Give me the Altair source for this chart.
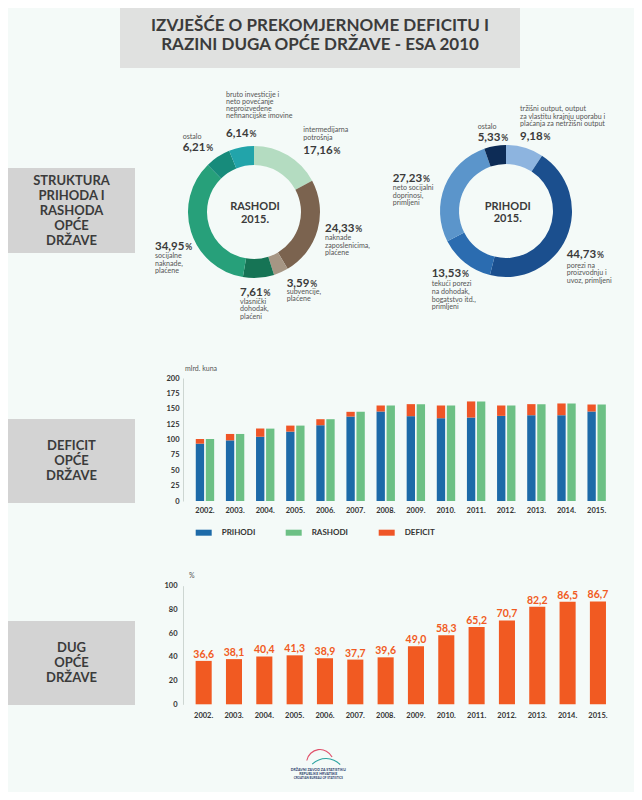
import altair as alt
import pandas as pd

# ---------------- data ----------------
years = ["2002.", "2003.", "2004.", "2005.", "2006.", "2007.", "2008.",
         "2009.", "2010.", "2011.", "2012.", "2013.", "2014.", "2015."]
prihodi = [93.2, 98.6, 104.6, 112.8, 123.2, 137.3, 145.5, 137.9, 134.6, 135.7, 138.4, 139.5, 139.5, 145.5]
rashodi = [100.8, 109.0, 117.7, 122.6, 133.0, 145.0, 155.3, 157.5, 155.3, 161.9, 155.3, 157.5, 158.6, 156.9]
dug = [36.6, 38.1, 40.4, 41.3, 38.9, 37.7, 39.6, 49.0, 58.3, 65.2, 70.7, 82.2, 86.5, 86.7]

bar_series = ["PRIHODI", "RASHODI", "DEFICIT"]
y1_ticks = [0, 25, 50, 75, 100, 125, 150, 175, 200]
y2_ticks = [0, 20, 40, 60, 80, 100]

rashodi_kat = ["intermedijarna\npotrošnja",
               "naknade\nzaposlenicima,\nplaćene",
               "subvencije,\nplaćene",
               "vlasnički\ndohodak,\nplaćeni",
               "socijalne\nnaknade,\nplaćene",
               "ostalo",
               "bruto investicije i\nneto povećanje\nneproizvedene\nnefinancijske imovine"]
rashodi_udio = [17.16, 24.33, 3.59, 7.61, 34.95, 6.21, 6.14]

prihodi_kat = ["tržišni output, output\nza vlastitu krajnju uporabu i\nplaćanja za netržišni output",
               "porezi na\nproizvodnju i\nuvoz, primljeni",
               "tekući porezi\nna dohodak,\nbogatstvo itd.,\nprimljeni",
               "neto socijalni\ndoprinosi,\nprimljeni",
               "ostalo"]
prihodi_udio = [9.18, 44.73, 13.53, 27.23, 5.33]

title_lines = "IZVJEŠĆE O PREKOMJERNOME DEFICITU I\nRAZINI DUGA OPĆE DRŽAVE - ESA 2010"
section_titles = ["STRUKTURA\nPRIHODA I\nRASHODA\nOPĆE\nDRŽAVE", "DEFICIT\nOPĆE\nDRŽAVE", "DUG\nOPĆE\nDRŽAVE"]
logo_lines = ["DRŽAVNI ZAVOD ZA STATISTIKU", "REPUBLIKE HRVATSKE", "CROATIAN BUREAU OF STATISTICS"]

# ---------------- styles / layout ----------------
W, H = 626, 784
FONT = "Lato"
BG = "#f4faf8"
rashodi_colors = ["#b4dcc1", "#7b634f", "#a69684", "#167455", "#27a07a", "#178b7b", "#22a4aa"]
prihodi_colors = ["#8db4df", "#1b4f8e", "#2b6cb0", "#5b95cb", "#0d2c56"]
bar_colors = ["#1d6aa8", "#6cc085", "#ef5527"]
debt_color = "#f15a22"
dark = "#3b3b3b"
desc_c = "#555555"
NUM_SIZE = 11.5
PCT_SIZE = 8.5

# (x, y_number, y_first_desc_line, line_height)
rashodi_lab = [(295.3, 142.0, 122.4, 7.2), (317.0, 219.7, 230.3, 7.3), (278.7, 274.7, 284.0, 7.3),
               (232.0, 283.7, 293.7, 7.8), (147.0, 237.7, 248.0, 7.5), (174.7, 138.7, 129.3, 7.0),
               (218.0, 124.7, 86.6, 7.2)]
prihodi_lab = [(512.0, 127.7, 101.3, 7.3), (558.7, 246.3, 257.7, 7.7), (423.7, 265.3, 276.3, 7.7),
               (384.7, 169.7, 180.3, 7.5), (469.7, 128.7, 119.0, 7.0)]


def one():
    return pd.DataFrame({"a": [0]})


def rect(x, x2, y, y2, color):
    return alt.Chart(one()).mark_rect(color=color).encode(
        x=alt.value(x), x2=alt.value(x2), y=alt.value(y), y2=alt.value(y2))


def text(s, x, y, size, weight="normal", color=dark, align="left", lh=None, center=False, baseline="middle"):
    """y is the centre of the first line (or of the whole block if center=True)."""
    n = s.count("\n") + 1
    lh = lh or size * 1.15
    y1 = y - (n - 1) * lh / 2 if center else y
    return alt.Chart(pd.DataFrame({"t": [s]})).mark_text(
        align=align, baseline=baseline, font=FONT, fontSize=size, fontWeight=weight,
        color=color, lineBreak="\n", lineHeight=lh).encode(
        x=alt.value(x), y=alt.value(y1), text="t:N")


def num_str(v):
    return f"{v:.2f}".replace(".", ",")


def num_width(s, size):
    # approximate advance widths for Lato Bold figures and comma
    return sum((0.24 if ch == "," else 0.58) * size for ch in s)


layers = []

# title box
layers.append(rect(112, 512, 0, 60, "#e0e1e0"))
layers.append(text(title_lines, 312, 27.8, 17, "bold", dark, "center", lh=19.2, center=True))

# section boxes
for s, (y0, y1) in zip(section_titles, [(160, 245), (411, 495), (613, 697)]):
    layers.append(rect(0, 127, y0, y1, "#d3d3d3"))
    layers.append(text(s, 63.5, (y0 + y1) / 2, 13, "bold", dark, "center", lh=15, center=True))


# donuts
def donut(cats, vals, colors, cx, cy):
    df = pd.DataFrame({"kat": cats, "udio": vals, "red": list(range(len(cats)))})
    return alt.Chart(df).mark_arc(radius=66, radius2=47).encode(
        theta=alt.Theta("udio:Q", stack=True),
        order=alt.Order("red:Q"),
        color=alt.Color("kat:N", scale=alt.Scale(domain=cats, range=colors), legend=None),
        x=alt.value(cx), y=alt.value(cy))


layers.append(donut(rashodi_kat, rashodi_udio, rashodi_colors, 246, 204))
layers.append(donut(prihodi_kat, prihodi_udio, prihodi_colors, 498, 203))
layers.append(text("RASHODI\n2015.", 247, 205.5, 11, "bold", dark, "center", lh=13.3, center=True))
layers.append(text("PRIHODI\n2015.", 499.7, 205, 11, "bold", dark, "center", lh=11.5, center=True))

for cats, vals, labs in [(rashodi_kat, rashodi_udio, rashodi_lab), (prihodi_kat, prihodi_udio, prihodi_lab)]:
    for c, v, (x, yn, yd, lh) in zip(cats, vals, labs):
        s = num_str(v)
        base = yn + 0.36 * NUM_SIZE
        layers.append(text(s, x, base, NUM_SIZE, "bold", dark, baseline="alphabetic"))
        layers.append(text("%", x + num_width(s, NUM_SIZE) + 0.8, base, PCT_SIZE, "bold", dark,
                           baseline="alphabetic"))
        layers.append(text(c, x, yd, 7.1, "normal", desc_c, lh=lh))

# ---------------- deficit bar chart ----------------
rows = []
for yr, p, r in zip(years, prihodi, rashodi):
    rows.append({"godina": yr, "mjesto": "a", "serija": "PRIHODI", "dolje": 0, "gore": p})
    rows.append({"godina": yr, "mjesto": "b", "serija": "RASHODI", "dolje": 0, "gore": r})
    rows.append({"godina": yr, "mjesto": "a", "serija": "DEFICIT", "dolje": p, "gore": r})
df1 = pd.DataFrame(rows)

axis_lab = dict(labelFont=FONT, labelFontSize=7.5, labelFontWeight="bold", labelColor="#333333", title=None)

bars1 = alt.Chart(df1).mark_bar().encode(
    x=alt.X("godina:N", sort=years,
            scale=alt.Scale(range=[181.9, 603.7], paddingInner=0.39, paddingOuter=0.195),
            axis=alt.Axis(orient="bottom", offset=-291, domain=False, ticks=False, labelPadding=5,
                          labelAngle=0, grid=False, **axis_lab)),
    xOffset=alt.XOffset("mjesto:N", scale=alt.Scale(paddingInner=0.17, paddingOuter=0)),
    y=alt.Y("gore:Q", scale=alt.Scale(domain=[0, 200], range=[493, 370], nice=False),
            axis=alt.Axis(orient="left", offset=-175, values=y1_ticks, ticks=False, grid=False,
                          domainColor="#cdd6d2", labelPadding=4, **axis_lab)),
    y2="dolje:Q",
    color=alt.Color("serija:N", scale=alt.Scale(domain=bar_series, range=bar_colors),
                    legend=alt.Legend(orient="none", legendX=187.7, legendY=516.7, direction="horizontal",
                                      title=None, symbolType="M-1,-0.375H1V0.375H-1Z", symbolSize=256,
                                      symbolStrokeWidth=0, symbolOpacity=1, labelFont=FONT, labelFontSize=8,
                                      labelFontWeight="bold", labelColor="#333333", labelOffset=10,
                                      columnPadding=30, padding=0)),
)
layers.append(bars1)
layers.append(text("mlrd. kuna", 177, 361, 7, "normal", desc_c))

# ---------------- debt bar chart ----------------
df2 = pd.DataFrame({"godina": years, "dug": dug,
                    "oznaka": [f"{v:.1f}".replace(".", ",") for v in dug]})
xs2 = alt.X("godina:N", sort=years,
            scale=alt.Scale(range=[180.5, 605.1], paddingInner=0.47, paddingOuter=0.235),
            axis=alt.Axis(orient="bottom", offset=-87.7, domain=False, ticks=False, labelPadding=7,
                          labelAngle=0, grid=False, **axis_lab))
ys2 = alt.Y("dug:Q", scale=alt.Scale(domain=[0, 100], range=[696.3, 577.7], nice=False),
            axis=alt.Axis(orient="left", offset=-175, values=y2_ticks, ticks=False, grid=False,
                          domainColor="#cdd6d2", labelPadding=6, **axis_lab))
bars2 = alt.Chart(df2).mark_bar(color=debt_color).encode(x=xs2, y=ys2)
lab2 = alt.Chart(df2).mark_text(font=FONT, fontSize=10.5, fontWeight="bold", color=debt_color,
                                baseline="alphabetic", dy=-3).encode(
    x=alt.X("godina:N", sort=years), y=alt.Y("dug:Q"), text="oznaka:N")
layers.append(alt.layer(bars2, lab2))
layers.append(text("%", 181, 568, 7, "normal", desc_c))

# ---------------- logo ----------------
layers.append(alt.Chart(one()).mark_arc(radius=14, radius2=12.9, theta=4.9, theta2=7.4, color="#e0506a").encode(
    x=alt.value(312), y=alt.value(755)))
layers.append(alt.Chart(one()).mark_arc(radius=20, radius2=19, theta=5.5, theta2=7.1, color="#2aa3a0").encode(
    x=alt.value(318), y=alt.value(770)))
for i, s in enumerate(logo_lines):
    layers.append(text(s, 310.3, 762 + i * 3.8, 3.6 if i < 2 else 3.0, "bold", "#2b3b6b", "center"))

chart = alt.layer(*layers).resolve_scale(
    x="independent", y="independent", color="independent", theta="independent"
).properties(
    width=W, height=H, autosize=alt.AutoSizeParams(type="none"), padding=0
).configure(background=BG, font=FONT).configure_view(stroke=None)

chart.save("out.html", embed_options={"renderer": "svg", "actions": False})
